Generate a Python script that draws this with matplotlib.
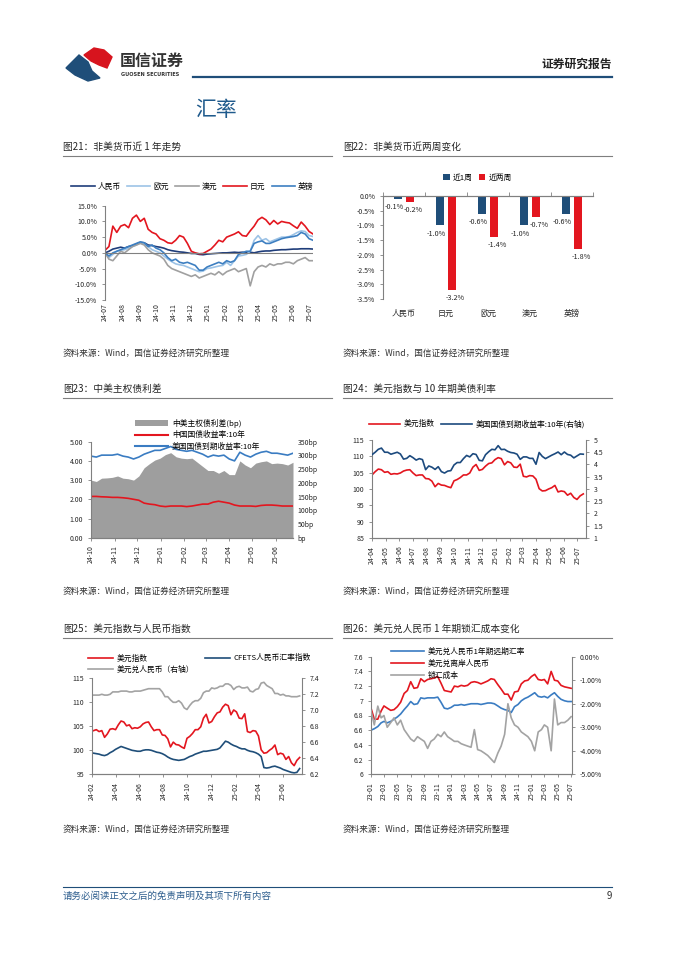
import numpy as np
import pandas as pd
import matplotlib
matplotlib.use('Agg')
import matplotlib.pyplot as plt
import matplotlib.dates as mdates
from matplotlib.lines import Line2D
from matplotlib.patches import Polygon, Patch
from matplotlib.ticker import FuncFormatter, MultipleLocator

plt.rcParams['font.family'] = ['Noto Sans CJK SC', 'DejaVu Sans']
plt.rcParams['axes.unicode_minus'] = False

# ---------------- data ----------------
# Fig 21: non-USD currencies (%), weekly from 2024-07-01
cny21 = [0,0.5,1.2,1.5,1.8,1.5,2,2.2,2.8,3.3,3.2,2.5,2.3,2,1.8,1.5,1,0.7,0.5,0.3,0.2,0,-0.2,-0.2,-0.5,-0.6,-0.4,-0.3,-0.2,-0.1,0,0,0.1,0.2,0.1,0.2,0.1,0.2,0,0.3,0.5,0.6,0.6,0.8,0.9,1,1,1.1,1.2,1.2,1.3,1.3,1.3,1.2]
eur21 = [0,-1.5,-0.5,0.5,0.8,1,1.5,2,2.5,3.2,3,2,1,0.5,0,-1,-2,-2.8,-3.5,-3.8,-4,-4.5,-5,-5.5,-6,-5.8,-5,-4.8,-4.5,-4.2,-4,-3,-4,-2.5,-1,-0.8,-0.5,0.5,4,5.5,4,4.5,3.5,4,4.5,5,5,5.2,5.8,6.5,7,6.8,5.5,5.2]
aud21 = [0,-2,-2.5,-1,0.5,0,1,2,2.5,3,2.5,1,0,-0.5,-1,-2,-4,-5,-5.5,-6,-6.5,-7,-7.5,-7,-8,-7.5,-7,-6.5,-7,-6,-7,-6,-5.5,-5,-6,-5.5,-5,-10.5,-6,-4.5,-4,-4.5,-3.5,-4,-3.5,-3.5,-3,-3,-3.5,-2.5,-2,-1.5,-2.5,-2.5]
jpy21 = [0.8,2,8.5,6.5,8.5,9,8,11,12,10,11,7.5,6.5,6,4.5,4,3.2,3,4,5.5,5,3,0.5,0,-0.3,-0.2,0.5,1.2,2.5,4,3.5,5,5.5,6,6.7,5.5,5.3,7,8.5,10.5,11.3,10.5,9,10.3,9.2,10,9.7,9.5,8.6,7.8,9.8,8.5,6.8,6]
gbp21 = [0,-1,0,0.5,1,1.5,2,2.5,3,3.5,3.2,2,2.5,1.5,1,0,-1.5,-2.5,-2,-3,-3.3,-3,-3.5,-4,-5.5,-5.5,-4.5,-4,-3.5,-3,-3.5,-2.5,-3,-2.5,-0.5,0,0.5,0.5,3,3.5,3.8,3,3,3.5,4,4.5,4.8,5,5.2,5.5,6.5,6,4.5,4]
names21 = ['人民币', '欧元', '澳元', '日元', '英镑']

# Fig 22: two-week changes (%)
cats22 = ['人民币', '日元', '欧元', '澳元', '英镑']
week1_22 = [-0.1, -1.0, -0.6, -1.0, -0.6]
week2_22 = [-0.2, -3.2, -1.4, -0.7, -1.8]

# Fig 23: weekly from 2024-10-01
us10_23 = [4.25,4.2,4.3,4.3,4.3,4.35,4.25,4.2,4.1,4.2,4.35,4.45,4.55,4.55,4.65,4.75,4.6,4.55,4.5,4.55,4.45,4.35,4.2,4.3,4.25,4.3,4.1,4.0,4.45,4.3,4.2,4.35,4.45,4.5,4.4,4.4,4.35,4.3,4.4]
cn10_23 = [2.15,2.15,2.13,2.12,2.1,2.1,2.08,2.05,2.0,1.95,1.8,1.75,1.72,1.65,1.62,1.65,1.65,1.65,1.62,1.65,1.7,1.75,1.75,1.85,1.9,1.85,1.8,1.7,1.65,1.65,1.65,1.63,1.68,1.7,1.7,1.68,1.65,1.65,1.65]
spread_23 = [210,205,217,218,220,225,217,215,210,225,255,270,283,290,303,310,295,290,288,290,275,260,245,245,235,245,230,230,280,265,255,272,277,280,270,272,270,265,275]

# Fig 24/25: weekly from 2024-02-05
dxy = [104.1,104.3,103.9,104.1,102.7,103.4,104.4,104.5,104.3,105.3,106.1,105.9,105.1,105.3,104.5,104.7,104.6,104.9,105.5,105.8,105.9,104.9,104.1,104.3,104.3,103.2,103.1,102.4,100.7,101.7,101.2,101.1,100.7,100.4,102.5,102.9,103.5,104.3,104.3,104.9,106.7,107.5,105.7,106.0,107.0,107.8,108.0,109.0,109.6,109.3,107.4,108.4,108.0,106.7,106.6,107.6,103.9,103.7,104.1,104.0,103.0,100.1,99.4,99.5,100.0,100.4,101.1,99.1,99.4,99.2,98.1,98.7,97.4,96.8,97.9,98.5]
us10_24 = [4.40,4.50,4.62,4.67,4.50,4.50,4.42,4.46,4.50,4.43,4.22,4.25,4.36,4.28,4.18,4.24,4.20,3.79,3.94,3.89,3.80,3.91,3.71,3.65,3.73,3.75,3.98,4.08,4.08,4.24,4.37,4.31,4.44,4.41,4.17,4.15,4.40,4.52,4.62,4.60,4.77,4.61,4.62,4.54,4.49,4.47,4.42,4.21,4.31,4.31,4.25,4.25,4.01,4.49,4.33,4.24,4.31,4.38,4.44,4.51,4.40,4.51,4.41,4.38,4.27,4.35,4.43,4.42]
cfets = [99.4,99.3,99.2,99.0,98.9,99.1,99.5,99.8,100.2,100.5,100.8,100.6,100.4,100.2,100.0,99.9,99.8,99.8,100.0,100.1,100.1,100.0,99.8,99.6,99.5,99.3,99.0,98.6,98.3,98.1,98.0,97.9,98.0,98.1,98.4,98.7,98.9,99.2,99.4,99.6,99.8,99.8,99.9,100.0,100.1,100.2,100.5,101.2,101.9,101.7,101.3,101.0,100.8,100.5,100.3,100.3,100.0,99.8,99.7,99.5,99.2,98.7,96.4,96.3,96.4,96.6,96.7,96.5,96.3,96.0,95.8,95.6,95.4,95.3,95.4,96.2]
usdcny = [7.19,7.19,7.19,7.20,7.19,7.19,7.20,7.23,7.23,7.23,7.24,7.24,7.24,7.23,7.23,7.24,7.24,7.24,7.25,7.26,7.27,7.27,7.27,7.27,7.27,7.23,7.17,7.17,7.13,7.10,7.10,7.12,7.09,7.03,7.01,7.06,7.10,7.12,7.12,7.15,7.22,7.24,7.24,7.28,7.27,7.28,7.30,7.30,7.33,7.33,7.31,7.26,7.29,7.30,7.28,7.28,7.29,7.24,7.23,7.26,7.27,7.34,7.35,7.31,7.29,7.27,7.21,7.21,7.19,7.20,7.18,7.18,7.17,7.17,7.17,7.18]

# Fig 26: semi-monthly from 2023-01-01
fwd26 = [6.60,6.62,6.65,6.70,6.72,6.70,6.72,6.75,6.78,6.82,6.88,6.93,6.99,6.95,6.96,7.04,7.03,7.04,7.04,7.04,7.05,6.98,6.90,6.89,6.91,6.94,6.94,6.95,6.94,6.95,6.96,6.96,6.96,6.95,6.96,6.97,6.97,6.96,6.93,6.90,6.88,6.87,6.84,6.92,6.95,7.00,7.03,7.05,7.08,7.11,7.06,7.05,7.06,7.04,7.08,7.11,7.06,7.02,7.00,6.99,6.99]
cnh26 = [6.90,6.75,6.75,6.86,6.93,6.90,6.87,6.88,6.92,6.98,7.10,7.14,7.26,7.17,7.18,7.30,7.26,7.29,7.30,7.31,7.33,7.24,7.14,7.13,7.12,7.20,7.19,7.21,7.20,7.21,7.25,7.26,7.25,7.23,7.25,7.27,7.30,7.29,7.22,7.16,7.09,7.09,7.01,7.12,7.13,7.23,7.27,7.28,7.33,7.36,7.29,7.28,7.29,7.23,7.40,7.28,7.27,7.21,7.19,7.18,7.17]
cost26 = [-2.3,-2.9,-2.1,-2.6,-2.5,-3.0,-2.8,-2.6,-2.9,-2.7,-3.1,-3.3,-3.5,-3.6,-3.4,-3.5,-3.6,-3.9,-3.6,-3.5,-3.3,-3.4,-3.2,-3.4,-3.5,-3.6,-3.6,-3.7,-3.75,-3.8,-3.85,-3.1,-3.95,-4.0,-4.1,-4.2,-4.35,-4.5,-4.1,-3.8,-3.3,-2.0,-2.6,-2.9,-3.0,-3.2,-3.3,-3.4,-3.6,-4.0,-3.2,-3.1,-2.9,-3.0,-4.0,-1.8,-2.9,-2.8,-2.8,-2.7,-2.55]

for arr, n in [(cny21,54),(eur21,54),(aud21,54),(jpy21,54),(gbp21,54),(us10_23,39),(cn10_23,39),(spread_23,39),
               (dxy,76),(us10_24,68),(cfets,76),(usdcny,76),(fwd26,61),(cnh26,61),(cost26,61)]:
    assert len(arr) == n, (len(arr), n)

dates21 = pd.date_range('2024-07-01', periods=len(cny21), freq='7D')
dates23 = pd.date_range('2024-10-01', periods=len(us10_23), freq='7D')
dates25 = pd.date_range('2024-02-05', periods=len(dxy), freq='7D')
dates24 = dates25[8:]
dates26 = [pd.Timestamp(2023 + m // 12, m % 12 + 1, d) for m in range(31) for d in (1, 16)][:len(fwd26)]

RED = '#e3161f'
NAVY = '#1f4e79'
BLUE = '#3a7cc2'
GREY = '#a3a3a3'
SPINE = '#808080'
TXT = '#262626'
TICK_FS = 5
LEG_FS = 5.6

W, H = 677, 957
fig = plt.figure(figsize=(W / 100, H / 100), dpi=100)

# overlay in pixel coords
ov = fig.add_axes([0, 0, 1, 1])
ov.set_xlim(0, W); ov.set_ylim(H, 0); ov.axis('off')

# logo
ov.add_patch(Polygon([(84, 55), (94, 48), (104, 50), (112, 57), (107, 68), (99, 65), (91, 61)], closed=True, color='#d7141e'))
ov.add_patch(Polygon([(66, 68), (79, 55), (88, 62), (92, 71), (100, 78), (88, 81), (75, 75)], closed=True, color='#1f4e79'))
ov.text(120, 61, '国信证券', fontsize=11.5, fontweight='bold', color='#333333', va='center', ha='left')
ov.text(121, 74, 'GUOSEN SECURITIES', fontsize=3.6, fontweight='bold', color='#333333', va='center', ha='left', family='DejaVu Sans')
ov.plot([193, 612], [76.5, 76.5], color='#1f4e79', lw=1.6)
ov.text(612, 64, '证券研究报告', fontsize=8.5, fontweight='bold', color='#222222', ha='right', va='center')
ov.text(195, 110, '汇率', fontsize=15, color='#1f5a8c', ha='left', va='center')

titles = [(63, 147, '图21：非美货币近 1 年走势'), (343, 147, '图22：非美货币近两周变化'),
          (63, 389, '图23：中美主权债利差'), (343, 389, '图24：美元指数与 10 年期美债利率'),
          (63, 629, '图25：美元指数与人民币指数'), (343, 629, '图26：美元兑人民币 1 年期锁汇成本变化')]
for x, y, t in titles:
    ov.text(x, y, t, fontsize=7, color=TXT, ha='left', va='center')
    ov.plot([x, x + 269], [y + 9, y + 9], color='#7f7f7f', lw=0.8)
for x in (63, 343):
    for y in (353, 591, 829):
        ov.text(x, y, '资料来源：Wind，国信证券经济研究所整理', fontsize=6.2, color='#333333', ha='left', va='center')
ov.plot([63, 612], [887, 887], color='#1f4e79', lw=0.8)
ov.text(63, 896, '请务必阅读正文之后的免责声明及其项下所有内容', fontsize=6.8, color='#2e5e8e', ha='left', va='center')
ov.text(612, 896, '9', fontsize=7, color='#333333', ha='right', va='center')


def ax_at(x0, y0, x1, y1):
    return fig.add_axes([x0 / W, 1 - y1 / H, (x1 - x0) / W, (y1 - y0) / H])


def style(ax, left=True, right=False, bottom=True, top=False):
    for s, v in (('left', left), ('right', right), ('bottom', bottom), ('top', top)):
        ax.spines[s].set_visible(v)
        ax.spines[s].set_color(SPINE)
        ax.spines[s].set_linewidth(0.8)
    ax.tick_params(labelsize=TICK_FS, colors=TXT, length=2, width=0.6)
    ax.tick_params(axis='both', color=SPINE)
    ax.patch.set_visible(False)


def date_axis(ax, months, start, end):
    ax.xaxis.set_major_locator(mdates.MonthLocator(bymonth=months))
    ax.xaxis.set_major_formatter(mdates.DateFormatter('%y-%m'))
    ax.set_xlim(pd.Timestamp(start), pd.Timestamp(end))
    for lab in ax.get_xticklabels():
        lab.set_rotation(90)


# ---------- Fig 21 ----------
ax = ax_at(105, 205.7, 313, 300)
style(ax, bottom=False)
cols21 = ['#1f3d7a', '#9dc3e6', '#a0a0a0', RED, '#3d7fc1']
for arr, c, n in zip([cny21, eur21, aud21, jpy21, gbp21], cols21, names21):
    ax.plot(dates21, arr, color=c, lw=1.2, label=n)
ax.axhline(0, color=SPINE, lw=0.8)
ax.set_ylim(-15, 15)
ax.yaxis.set_major_locator(MultipleLocator(5))
ax.yaxis.set_major_formatter(FuncFormatter(lambda v, p: f'{v:.1f}%'))
date_axis(ax, range(1, 13), '2024-07-01', dates21[-1])
ax.tick_params(axis='x', length=0, pad=2)
ax.legend(ncol=5, loc='center', bbox_to_anchor=(0.42, 1.2), fontsize=LEG_FS, frameon=False,
          handlelength=3, columnspacing=0.8, handletextpad=0.4)

# ---------- Fig 22 ----------
ax = ax_at(383, 196, 593, 299)
style(ax, bottom=False, top=True)
xs = np.arange(len(cats22))
b1 = ax.bar(xs - 0.14, week1_22, width=0.2, color=NAVY, label='近1周')
b2 = ax.bar(xs + 0.14, week2_22, width=0.2, color=RED, label='近两周')
for bars, vals, dx in ((b1, week1_22, -2.5), (b2, week2_22, 2.5)):
    for bar, v in zip(bars, vals):
        ax.annotate(f'{v:.1f}%', (bar.get_x() + bar.get_width() / 2, v), xytext=(dx, -3),
                    textcoords='offset points', ha='center', va='top', fontsize=TICK_FS + 0.2, color=TXT)
ax.set_ylim(-3.5, 0)
ax.set_xlim(-0.5, len(cats22) - 0.5)
ax.yaxis.set_major_locator(MultipleLocator(0.5))
ax.yaxis.set_major_formatter(FuncFormatter(lambda v, p: f'{v:.1f}%'))
ax.set_xticks(xs)
ax.set_xticklabels(cats22, fontsize=5.8)
ax.tick_params(axis='x', length=0, pad=7)
sec = ax.secondary_xaxis('top')
sec.set_xticks(np.arange(-0.5, len(cats22), 1.0))
sec.set_xticklabels([])
sec.tick_params(length=3, color=SPINE, width=0.6)
sec.spines['top'].set_color(SPINE)
ax.legend(ncol=2, loc='center', bbox_to_anchor=(0.45, 1.175), fontsize=LEG_FS, frameon=False,
          handlelength=0.8, handleheight=0.8, columnspacing=0.8, handletextpad=0.4)

# ---------- Fig 23 ----------
ax = ax_at(91, 441.7, 293, 537.7)
ax2 = ax.twinx()
style(ax)
style(ax2, left=False, right=False)
ax2.fill_between(dates23, spread_23, 0, color='#9e9e9e', lw=0)
ax.plot(dates23, cn10_23, color=RED, lw=1.2)
ax.plot(dates23, us10_23, color=BLUE, lw=1.2)
ax.set_zorder(ax2.get_zorder() + 1)
ax.set_ylim(0, 5)
ax2.set_ylim(0, 350)
ax.yaxis.set_major_locator(MultipleLocator(1))
ax.yaxis.set_major_formatter(FuncFormatter(lambda v, p: f'{v:.2f}'))
ax2.yaxis.set_major_locator(MultipleLocator(50))
ax2.yaxis.set_major_formatter(FuncFormatter(lambda v, p: f'{v:.0f}bp' if v > 0 else 'bp'))
ax2.tick_params(axis='y', length=0)
date_axis(ax, range(1, 13), '2024-10-01', dates23[-1])
h23 = [Patch(facecolor='#9e9e9e', edgecolor='none'), Line2D([], [], color=RED, lw=1.5), Line2D([], [], color=BLUE, lw=1.5)]
ax.legend(h23, ['中美主权债利差(bp)', '中国国债收益率:10年', '美国国债到期收益率:10年'], loc='upper left',
          bbox_to_anchor=(0.22, 1.24), fontsize=LEG_FS, frameon=False, borderpad=0, borderaxespad=0,
          labelspacing=0.45, handlelength=4.2, handleheight=0.7, handletextpad=0.5)

# ---------- Fig 24 ----------
ax = ax_at(372, 440, 586, 538)
ax2 = ax.twinx()
style(ax)
style(ax2, left=False, right=True)
l1, = ax.plot(dates24, dxy[8:], color=RED, lw=1.2)
l2, = ax2.plot(dates24, us10_24, color='#1c4a7e', lw=1.2)
ax.set_ylim(85, 115)
ax2.set_ylim(1, 5)
ax.yaxis.set_major_locator(MultipleLocator(5))
ax2.yaxis.set_major_locator(MultipleLocator(0.5))
ax2.yaxis.set_major_formatter(FuncFormatter(lambda v, p: f'{v:g}'))
date_axis(ax, range(1, 13), '2024-04-01', '2025-07-20')
ax.legend([l1, l2], ['美元指数', '美国国债到期收益率:10年(右轴)'], ncol=2, loc='center',
          bbox_to_anchor=(0.49, 1.163), fontsize=LEG_FS, frameon=False, handlelength=4,
          columnspacing=0.8, handletextpad=0.5)

# ---------- Fig 25 ----------
ax = ax_at(92, 678.3, 302, 774.3)
ax2 = ax.twinx()
style(ax)
style(ax2, left=False, right=True)
g1, = ax2.plot(dates25, usdcny, color=GREY, lw=1.2)
r1, = ax.plot(dates25, dxy, color=RED, lw=1.2)
n1, = ax.plot(dates25, cfets, color=NAVY, lw=1.2)
ax.set_zorder(ax2.get_zorder() + 1)
ax.set_ylim(95, 115)
ax2.set_ylim(6.2, 7.4)
ax.yaxis.set_major_locator(MultipleLocator(5))
ax2.yaxis.set_major_locator(MultipleLocator(0.2))
ax2.yaxis.set_major_formatter(FuncFormatter(lambda v, p: f'{v:.1f}'))
date_axis(ax, [2, 4, 6, 8, 10, 12], '2024-02-01', '2025-07-20')
ax.legend([r1, g1, n1], ['美元指数', '美元兑人民币（右轴）', 'CFETS人民币汇率指数'], ncol=2, loc='upper left',
          bbox_to_anchor=(-0.02, 1.25), fontsize=LEG_FS, frameon=False, borderpad=0, borderaxespad=0,
          labelspacing=0.45, handlelength=3.2, columnspacing=1.4, handletextpad=0.5)

# ---------- Fig 26 ----------
ax = ax_at(371, 656.7, 572, 774.3)
ax2 = ax.twinx()
style(ax)
style(ax2, left=False, right=True)
f1, = ax.plot(dates26, fwd26, color=BLUE, lw=1.2)
c1, = ax.plot(dates26, cnh26, color=RED, lw=1.2)
k1, = ax2.plot(dates26, cost26, color=GREY, lw=1.2)
ax.set_ylim(6, 7.6)
ax2.set_ylim(-5, 0)
ax.yaxis.set_major_locator(MultipleLocator(0.2))
ax.yaxis.set_major_formatter(FuncFormatter(lambda v, p: f'{round(v, 1):g}'))
ax2.yaxis.set_major_locator(MultipleLocator(1))
ax2.yaxis.set_major_formatter(FuncFormatter(lambda v, p: f'{v:.2f}%'))
date_axis(ax, [1, 3, 5, 7, 9, 11], '2023-01-01', '2025-07-05')
ax2.legend([f1, c1, k1], ['美元兑人民币1年期远期汇率', '美元兑离岸人民币', '锁汇成本'], loc='upper left',
           bbox_to_anchor=(0.10, 1.074), fontsize=LEG_FS, frameon=False, borderpad=0, borderaxespad=0,
           labelspacing=0.45, handlelength=4.2, handletextpad=0.5)

fig.savefig('out.png', dpi=100)
